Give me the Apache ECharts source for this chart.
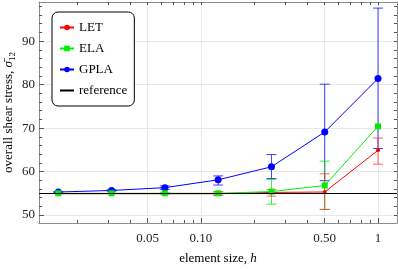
<!DOCTYPE html>
<html><head><meta charset="utf-8">
<script src="https://cdn.jsdelivr.net/npm/echarts@6/dist/echarts.min.js"></script>
<style>html,body{margin:0;padding:0;background:#fff}#c{width:398px;height:269px}</style>
</head><body><div id="c"></div>
<script>
// element sizes
const h = [1/64, 1/32, 1/16, 1/8, 1/4, 1/2, 1];
// LET
const letVal = [54.9, 54.9, 54.9, 54.9, 55.2, 55.3, 64.9];
const letLo  = [54.9, 54.9, 54.9, 54.5, 54.35, 51.3, 61.7];
const letHi  = [54.9, 54.9, 54.9, 55.3, 55.9, 59.5, 67.7];
// ELA
const elaVal = [55.0, 55.0, 55.0, 55.0, 55.4, 56.8, 70.4];
const elaLo  = [55.0, 55.0, 54.8, 54.6, 52.5, 51.3, 70.4];
const elaHi  = [55.0, 55.0, 55.2, 55.4, 58.2, 62.4, 70.4];
// GPLA
const gplaVal = [55.3, 55.65, 56.3, 58.1, 61.1, 69.1, 81.4];
const gplaLo  = [55.2, 55.5, 55.9, 56.9, 58.4, 57.9, 65.3];
const gplaHi  = [55.4, 55.8, 56.7, 59.0, 63.9, 80.1, 97.6];
// reference value
const refVal = 54.9;
// ticks
const xMajor = [0.05, 0.1, 0.5, 1];
const xMajorText = ['0.05', '0.10', '0.50', '1'];
const xMinor = [0.02,0.03,0.04,0.05,0.06,0.07,0.08,0.09,0.1,0.2,0.3,0.4,0.5,0.6,0.7,0.8,0.9,1];
const yMajor = [50, 60, 70, 80, 90];
const yMinor = [];
for (let v = 50; v <= 98; v += 2) yMinor.push(v);

const FONT = 'Liberation Serif';
const frame = '#8c8c8c';
const tickC = '#555';
const X_MIN = 0.01216, X_MAX = 1.28, Y_MIN = 48.17, Y_MAX = 99;

function errSeries(name, color, lo, hi, z) {
  return {
    type: 'custom', name: name, z: z, silent: true,
    renderItem: function (params, api) {
      const x = api.value(0), l = api.value(1), u = api.value(2);
      if (u - l < 0.05) return null;
      const p1 = api.coord([x, l]), p2 = api.coord([x, u]);
      const w = 5;
      const st = {stroke: color, lineWidth: 1, opacity: 0.75};
      return {type: 'group', children: [
        {type: 'line', shape: {x1: p1[0], y1: p1[1], x2: p2[0], y2: p2[1]}, style: st},
        {type: 'line', shape: {x1: p1[0]-w, y1: p1[1], x2: p1[0]+w, y2: p1[1]}, style: st},
        {type: 'line', shape: {x1: p2[0]-w, y1: p2[1], x2: p2[0]+w, y2: p2[1]}, style: st}
      ]};
    },
    encode: {x: 0, y: [1, 2]},
    data: h.map((x, i) => [x, lo[i], hi[i]])
  };
}

const chart = echarts.init(document.getElementById('c'), null, {renderer: 'canvas'});
chart.setOption({
  animation: false,
  grid: {left: 39, right: 1, top: 2, bottom: 46, containLabel: false, outerBoundsMode: 'none'},
  legend: {
    orient: 'vertical', left: 52, top: 12,
    data: ['LET', 'ELA', 'GPLA', {name: 'reference', itemStyle: {opacity: 0}}],
    itemWidth: 14, itemHeight: 7, itemGap: 8,
    padding: [9, 7, 9, 7],
    borderColor: '#000', borderWidth: 1, borderRadius: 6,
    backgroundColor: '#fff',
    textStyle: {fontFamily: FONT, fontSize: 13, color: '#000'}
  },
  xAxis: [
    {
      type: 'log', logBase: 10, min: X_MIN, max: X_MAX, position: 'bottom',
      axisLine: {show: true, lineStyle: {color: frame, width: 1}},
      axisTick: {show: true, inside: true, length: 5, customValues: xMajor, lineStyle: {color: tickC}},
      axisLabel: {customValues: xMajor, fontFamily: FONT, fontSize: 13, color: '#222', margin: 9,
        formatter: function (v) { const i = xMajor.findIndex(t => Math.abs(t - v) < 1e-9); return i >= 0 ? xMajorText[i] : ''; }},
      splitLine: {show: true, lineStyle: {color: '#e8e8e8', width: 1}},
      minorTick: {show: false}, minorSplitLine: {show: false},
      name: 'element size, {i|h}', nameLocation: 'middle', nameGap: 29, nameMoveOverlap: false,
      nameTextStyle: {fontFamily: FONT, fontSize: 13, color: '#000',
        rich: {i: {fontFamily: FONT, fontSize: 13, fontStyle: 'italic', color: '#000'}}}
    },
    {
      type: 'log', logBase: 10, min: X_MIN, max: X_MAX, position: 'bottom',
      axisLine: {show: false},
      axisTick: {show: true, inside: true, length: 3, customValues: xMinor, lineStyle: {color: tickC}},
      axisLabel: {show: false}, splitLine: {show: false}
    },
    {
      type: 'log', logBase: 10, min: X_MIN, max: X_MAX, position: 'top',
      axisLine: {show: true, lineStyle: {color: frame, width: 1}},
      axisTick: {show: true, inside: true, length: 3, customValues: xMinor, lineStyle: {color: tickC}},
      axisLabel: {show: false}, splitLine: {show: false}
    }
  ],
  yAxis: [
    {
      type: 'value', min: Y_MIN, max: Y_MAX, position: 'left',
      axisLine: {show: true, lineStyle: {color: frame, width: 1}},
      axisTick: {show: true, inside: true, length: 5, customValues: yMajor, lineStyle: {color: tickC}},
      axisLabel: {customValues: yMajor, fontFamily: FONT, fontSize: 13, color: '#222', margin: 4},
      splitLine: {show: true, lineStyle: {color: '#e8e8e8', width: 1}},
      name: 'overall shear stress, {s|σ\u0304}{sub|12}', nameLocation: 'middle', nameGap: 22, nameRotate: 90,
      nameMoveOverlap: false,
      nameTextStyle: {fontFamily: FONT, fontSize: 13, color: '#000', lineHeight: 16,
        rich: {s: {fontFamily: FONT, fontSize: 13, fontStyle: 'italic', color: '#000', lineHeight: 16},
               sub: {fontFamily: FONT, fontSize: 9, color: '#000', lineHeight: 9, verticalAlign: 'bottom'}}}
    },
    {
      type: 'value', min: Y_MIN, max: Y_MAX, position: 'left',
      axisLine: {show: false},
      axisTick: {show: true, inside: true, length: 3, customValues: yMinor, lineStyle: {color: tickC}},
      axisLabel: {show: false}, splitLine: {show: false}
    },
    {
      type: 'value', min: Y_MIN, max: Y_MAX, position: 'right',
      axisLine: {show: true, lineStyle: {color: frame, width: 1}},
      axisTick: {show: true, inside: true, length: 3, customValues: yMinor, lineStyle: {color: tickC}},
      axisLabel: {show: false}, splitLine: {show: false}
    }
  ],
  series: [
    errSeries('GPLA-err', '#0000ff', gplaLo, gplaHi, 2),
    errSeries('ELA-err', '#00e000', elaLo, elaHi, 2),
    errSeries('LET-err', '#ff3030', letLo, letHi, 2),
    {type: 'line', name: 'GPLA', data: h.map((x, i) => [x, gplaVal[i]]), symbol: 'circle', symbolSize: 7,
      itemStyle: {color: '#0000ff'}, lineStyle: {color: '#0000ff', width: 1}, z: 3},
    {type: 'line', name: 'ELA', data: h.map((x, i) => [x, elaVal[i]]), symbol: 'rect', symbolSize: 6,
      itemStyle: {color: '#00ee00'}, lineStyle: {color: '#00ee00', width: 1}, z: 4},
    {type: 'line', name: 'LET', data: h.map((x, i) => [x, letVal[i]]), symbol: 'circle', symbolSize: 4,
      itemStyle: {color: '#ff0000'}, lineStyle: {color: '#ff0000', width: 1}, z: 3},
    {type: 'line', name: 'reference', data: [], symbol: 'none',
      itemStyle: {color: '#000'}, lineStyle: {color: '#000', width: 1.2}, z: 5,
      markLine: {silent: true, symbol: 'none', label: {show: false},
        lineStyle: {color: '#000', width: 1.2, type: 'solid'},
        data: [{yAxis: refVal}]}}
  ]
});
</script>
</body></html>
